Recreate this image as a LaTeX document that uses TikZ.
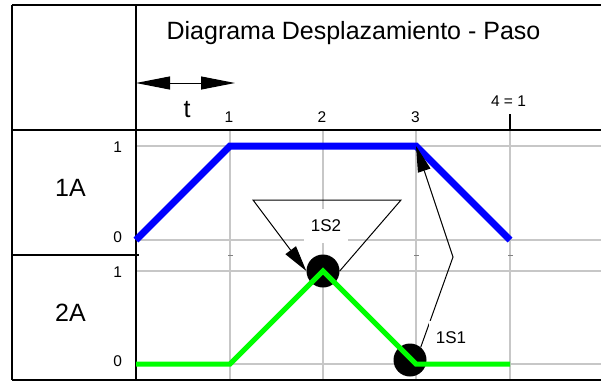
\documentclass[tikz,border=0pt]{standalone}
\usepackage{fontspec}
\setmainfont{Liberation Sans}
\usetikzlibrary{arrows.meta}
\begin{document}
\begin{tikzpicture}[x=1pt,y=-1pt,
  frame/.style={line width=1.5pt,black},
  gridln/.style={line width=1.3pt,black!22},
  big/.style={font=\fontsize{25}{30}\selectfont},
  small/.style={font=\fontsize{15.5}{18}\selectfont},
  sens/.style={font=\fontsize{17}{20}\selectfont, fill=white, minimum width=44pt, minimum height=34pt, inner sep=0pt},
  dot/.style={circle,fill=black,minimum size=33pt,inner sep=0pt},
  conn/.style={line width=1pt},
  tip/.style={-{Triangle[length=26pt,width=13pt]}}
]
\useasboundingbox (0,0) rectangle (601,381);

% grid
\foreach \x in {230,323,416,510} \draw[gridln] (\x,130) -- (\x,380);
\foreach \y in {146,240,271,364} \draw[gridln] (136,\y) -- (601,\y);
\foreach \x in {230,416,510} \draw[black!50, line width=0.8pt] (\x-2,255.5) -- (\x+3,255.5);

% frame
\draw[frame] (12,5) -- (601,5);
\draw[frame] (12,130) -- (601,130);
\draw[frame] (12,380) -- (601,380);
\draw[frame] (12,5) -- (12,380);
\draw[frame] (136,5) -- (136,380);
\draw[frame] (12,255) -- (139,255);
\draw[frame] (510,114) -- (510,130);

% title and labels
\node[big, anchor=base] (title) at (353.5,39.5) {Diagrama Desplazamiento - Paso};
\node[big, anchor=base] (n1A) at (70.5,196.5) {1A};
\node[big, anchor=base] (n2A) at (70.5,321.7) {2A};
\node[small, anchor=base east] (y1a) at (125.5,152.7) {1};
\node[small, anchor=base east] (y0a) at (125.5,242.5) {0};
\node[small, anchor=base east] (y1b) at (125.5,277.7) {1};
\node[small, anchor=base east] (y0b) at (125.5,366.5) {0};
\node[small, anchor=base] (x1) at (229,122.7) {1};
\node[small, anchor=base] (x2) at (322,122.7) {2};
\node[small, anchor=base] (x3) at (415.5,122.7) {3};
\node[small, anchor=base] (x4) at (508.5,106.7) {4 = 1};

% time arrow
\coordinate (ta) at (136,83);
\coordinate (tb) at (235,83);
\draw[line width=1pt, {Triangle[length=34pt,width=13pt]}-{Triangle[length=34pt,width=13pt]}] (ta) -- (tb);
\node[big, anchor=base] (tlab) at (187,117.3) {t};

% blue profile 1A
\coordinate (b0) at (136,240);
\coordinate (b1) at (230,146);
\coordinate (b3) at (416,146);
\coordinate (b4) at (510,240);
\draw[blue, line width=7pt] (b0) -- (b1) -- (b3) -- (b4);

% sensors
\node[dot] (s2) at (323,271) {};
\node[dot] (s1) at (410,360) {};

% green profile 2A
\coordinate (g0) at (136,364);
\coordinate (g1) at (230,364);
\coordinate (g3) at (416,364);
\coordinate (g4) at (510,364);
\draw[green, line width=5pt] (g0) -- (g1) -- (s2.center) -- (g3) -- (g4);

% connectors
\coordinate (k2r) at (401,200);
\coordinate (k2l) at (253,200);
\draw[conn,tip] (s2.east) -- (k2r) -- (k2l) -- (s2.west);
\coordinate (k1) at (453,257);
\draw[conn,tip] (s1.50) -- (k1) -- (b3);

\node[sens] (l2) at (326,226) {1S2};
\node[sens] (l1) at (451,338) {1S1};
\end{tikzpicture}
\end{document}
